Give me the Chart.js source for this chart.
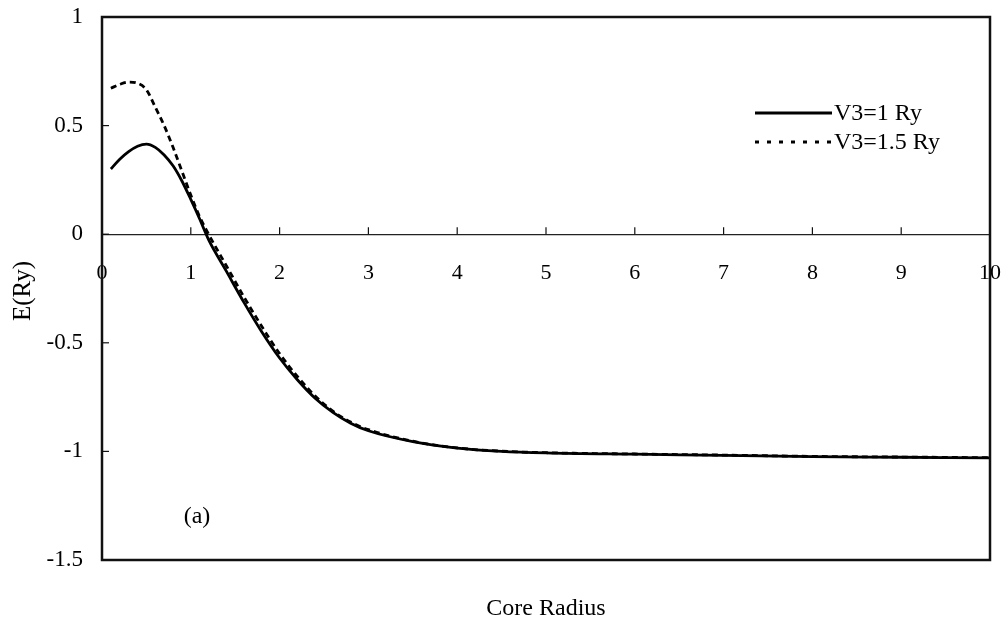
<!DOCTYPE html>
<html>
<head>
<meta charset="utf-8">
<script src="https://cdn.jsdelivr.net/npm/chart.js@4/dist/chart.umd.min.js"></script>
<style>
html, body { margin: 0; padding: 0; background: #fff; }
#wrap { width: 1005px; height: 623px; }
</style>
</head>
<body>
<div id="wrap"><canvas id="c" width="1005" height="623"></canvas></div>
<script>
// Core radius (x) and binding energy in Ry for the two barrier heights
const coreRadius = [0.1, 0.2, 0.3, 0.4, 0.5, 0.6, 0.7, 0.8, 0.9, 1.0, 1.1, 1.2, 1.4, 1.6, 1.8, 2.0, 2.2, 2.4, 2.6, 2.8, 3.0, 3.5, 4.0, 4.5, 5, 6, 7, 8, 9, 10];
const energyV3_1 = [0.30, 0.345, 0.38, 0.405, 0.415, 0.40, 0.365, 0.315, 0.245, 0.16, 0.07, -0.025, -0.17, -0.315, -0.45, -0.57, -0.67, -0.755, -0.82, -0.87, -0.905, -0.955, -0.985, -1.0, -1.007, -1.013, -1.018, -1.024, -1.027, -1.03];
const energyV3_15 = [0.672, 0.69, 0.70, 0.695, 0.665, 0.585, 0.50, 0.40, 0.29, 0.18, 0.08, 0.0, -0.145, -0.29, -0.425, -0.55, -0.655, -0.745, -0.815, -0.865, -0.90, -0.953, -0.984, -0.999, -1.006, -1.012, -1.017, -1.023, -1.026, -1.029];

const seriesNames = ['V3=1 Ry', 'V3=1.5 Ry'];
const panelLabel = '(a)';
const xTitle = 'Core Radius';
const yTitle = 'E(Ry)';

// Tick values and their printed labels
const xTickValues = [0, 1, 2, 3, 4, 5, 6, 7, 8, 9, 10];
const xTickLabels = ['0', '1', '2', '3', '4', '5', '6', '7', '8', '9', '10'];
const yTickValues = [-1.5, -1, -0.5, 0, 0.5, 1];
const yTickLabels = ['-1.5', '-1', '-0.5', '0', '0.5', '1'];

const FONT = 'Liberation Serif, Times New Roman, serif';

function labelFor(values, labels, v) {
  const i = values.findIndex(t => Math.abs(t - v) < 1e-9);
  return i >= 0 ? labels[i] : '';
}

const toPoints = (xs, ys) => xs.map((x, i) => ({ x, y: ys[i] }));

// Box frame, inward tick marks, legend, axis titles and panel tag
const decorations = {
  id: 'decorations',
  beforeDatasetsDraw(chart) {
    const { ctx, chartArea: a, scales: { x, y } } = chart;
    ctx.save();
    ctx.strokeStyle = '#111';
    // tick marks on the zero line, pointing up
    ctx.lineWidth = 1.2;
    const y0 = y.getPixelForValue(0);
    xTickValues.forEach(v => {
      const px = x.getPixelForValue(v);
      ctx.beginPath();
      ctx.moveTo(px, y0);
      ctx.lineTo(px, y0 - 7);
      ctx.stroke();
    });
    // tick marks on the left edge, pointing inward
    yTickValues.forEach(v => {
      const py = y.getPixelForValue(v);
      ctx.beginPath();
      ctx.moveTo(a.left, py);
      ctx.lineTo(a.left + 7, py);
      ctx.stroke();
    });
    ctx.restore();
  },
  afterDraw(chart) {
    const { ctx, chartArea: a, scales: { x, y } } = chart;
    ctx.save();
    // frame
    ctx.strokeStyle = '#111';
    ctx.lineWidth = 2.5;
    ctx.strokeRect(a.left, a.top, a.right - a.left, a.bottom - a.top);

    // legend
    const ds = chart.data.datasets;
    const rows = [{ y: 113, ds: ds[0], dash: [] }, { y: 142, ds: ds[1], dash: [4, 8] }];
    ctx.font = '24px ' + FONT;
    ctx.fillStyle = '#000';
    ctx.textAlign = 'left';
    ctx.textBaseline = 'middle';
    rows.forEach(r => {
      ctx.strokeStyle = r.ds.borderColor;
      ctx.lineWidth = r.ds.borderWidth;
      ctx.setLineDash(r.dash);
      ctx.beginPath();
      ctx.moveTo(755, r.y);
      ctx.lineTo(832, r.y);
      ctx.stroke();
      ctx.setLineDash([]);
      ctx.fillText(r.ds.label, 834, r.y + 1);
    });

    // panel tag
    ctx.font = '24px ' + FONT;
    ctx.textAlign = 'center';
    ctx.fillText(panelLabel, x.getPixelForValue(1.07), y.getPixelForValue(-1.30));

    // axis titles
    ctx.font = '24px ' + FONT;
    ctx.fillText(xTitle, (a.left + a.right) / 2, 609);
    ctx.font = '25px ' + FONT;
    ctx.translate(23, 291);
    ctx.rotate(-Math.PI / 2);
    ctx.fillText(yTitle, 0, 0);
    ctx.restore();
  }
};

new Chart(document.getElementById('c'), {
  type: 'line',
  data: {
    datasets: [
      {
        label: seriesNames[0],
        data: toPoints(coreRadius, energyV3_1),
        borderColor: '#000',
        borderWidth: 2.8,
        pointRadius: 0,
        cubicInterpolationMode: 'monotone',
        fill: false
      },
      {
        label: seriesNames[1],
        data: toPoints(coreRadius, energyV3_15),
        borderColor: '#000',
        borderWidth: 2.8,
        borderDash: [6, 4],
        pointRadius: 0,
        cubicInterpolationMode: 'monotone',
        fill: false
      }
    ]
  },
  options: {
    responsive: false,
    animation: false,
    devicePixelRatio: 1,
    layout: { padding: { left: 0, top: 17, right: 15, bottom: 63 } },
    plugins: { legend: { display: false }, tooltip: { enabled: false } },
    scales: {
      x: {
        type: 'linear',
        position: { y: 0 },
        min: 0,
        max: 10,
        afterBuildTicks: s => { s.ticks = xTickValues.map(v => ({ value: v })); },
        afterFit: s => { s.paddingLeft = 0; s.paddingRight = 0; },
        grid: { display: false, drawTicks: false },
        border: { display: true, color: '#222', width: 1.2 },
        ticks: {
          color: '#000',
          font: { family: FONT, size: 22 },
          padding: 26,
          maxRotation: 0,
          autoSkip: false,
          callback: v => labelFor(xTickValues, xTickLabels, v)
        }
      },
      y: {
        type: 'linear',
        position: 'left',
        min: -1.5,
        max: 1,
        afterBuildTicks: s => { s.ticks = yTickValues.map(v => ({ value: v })); },
        afterFit: s => { s.width = 102; s.paddingTop = 0; s.paddingBottom = 0; },
        grid: { display: false, drawTicks: false },
        border: { display: false },
        ticks: {
          color: '#000',
          font: { family: FONT, size: 23 },
          padding: 19,
          autoSkip: false,
          callback: v => labelFor(yTickValues, yTickLabels, v)
        }
      }
    }
  },
  plugins: [decorations]
});
</script>
</body>
</html>
